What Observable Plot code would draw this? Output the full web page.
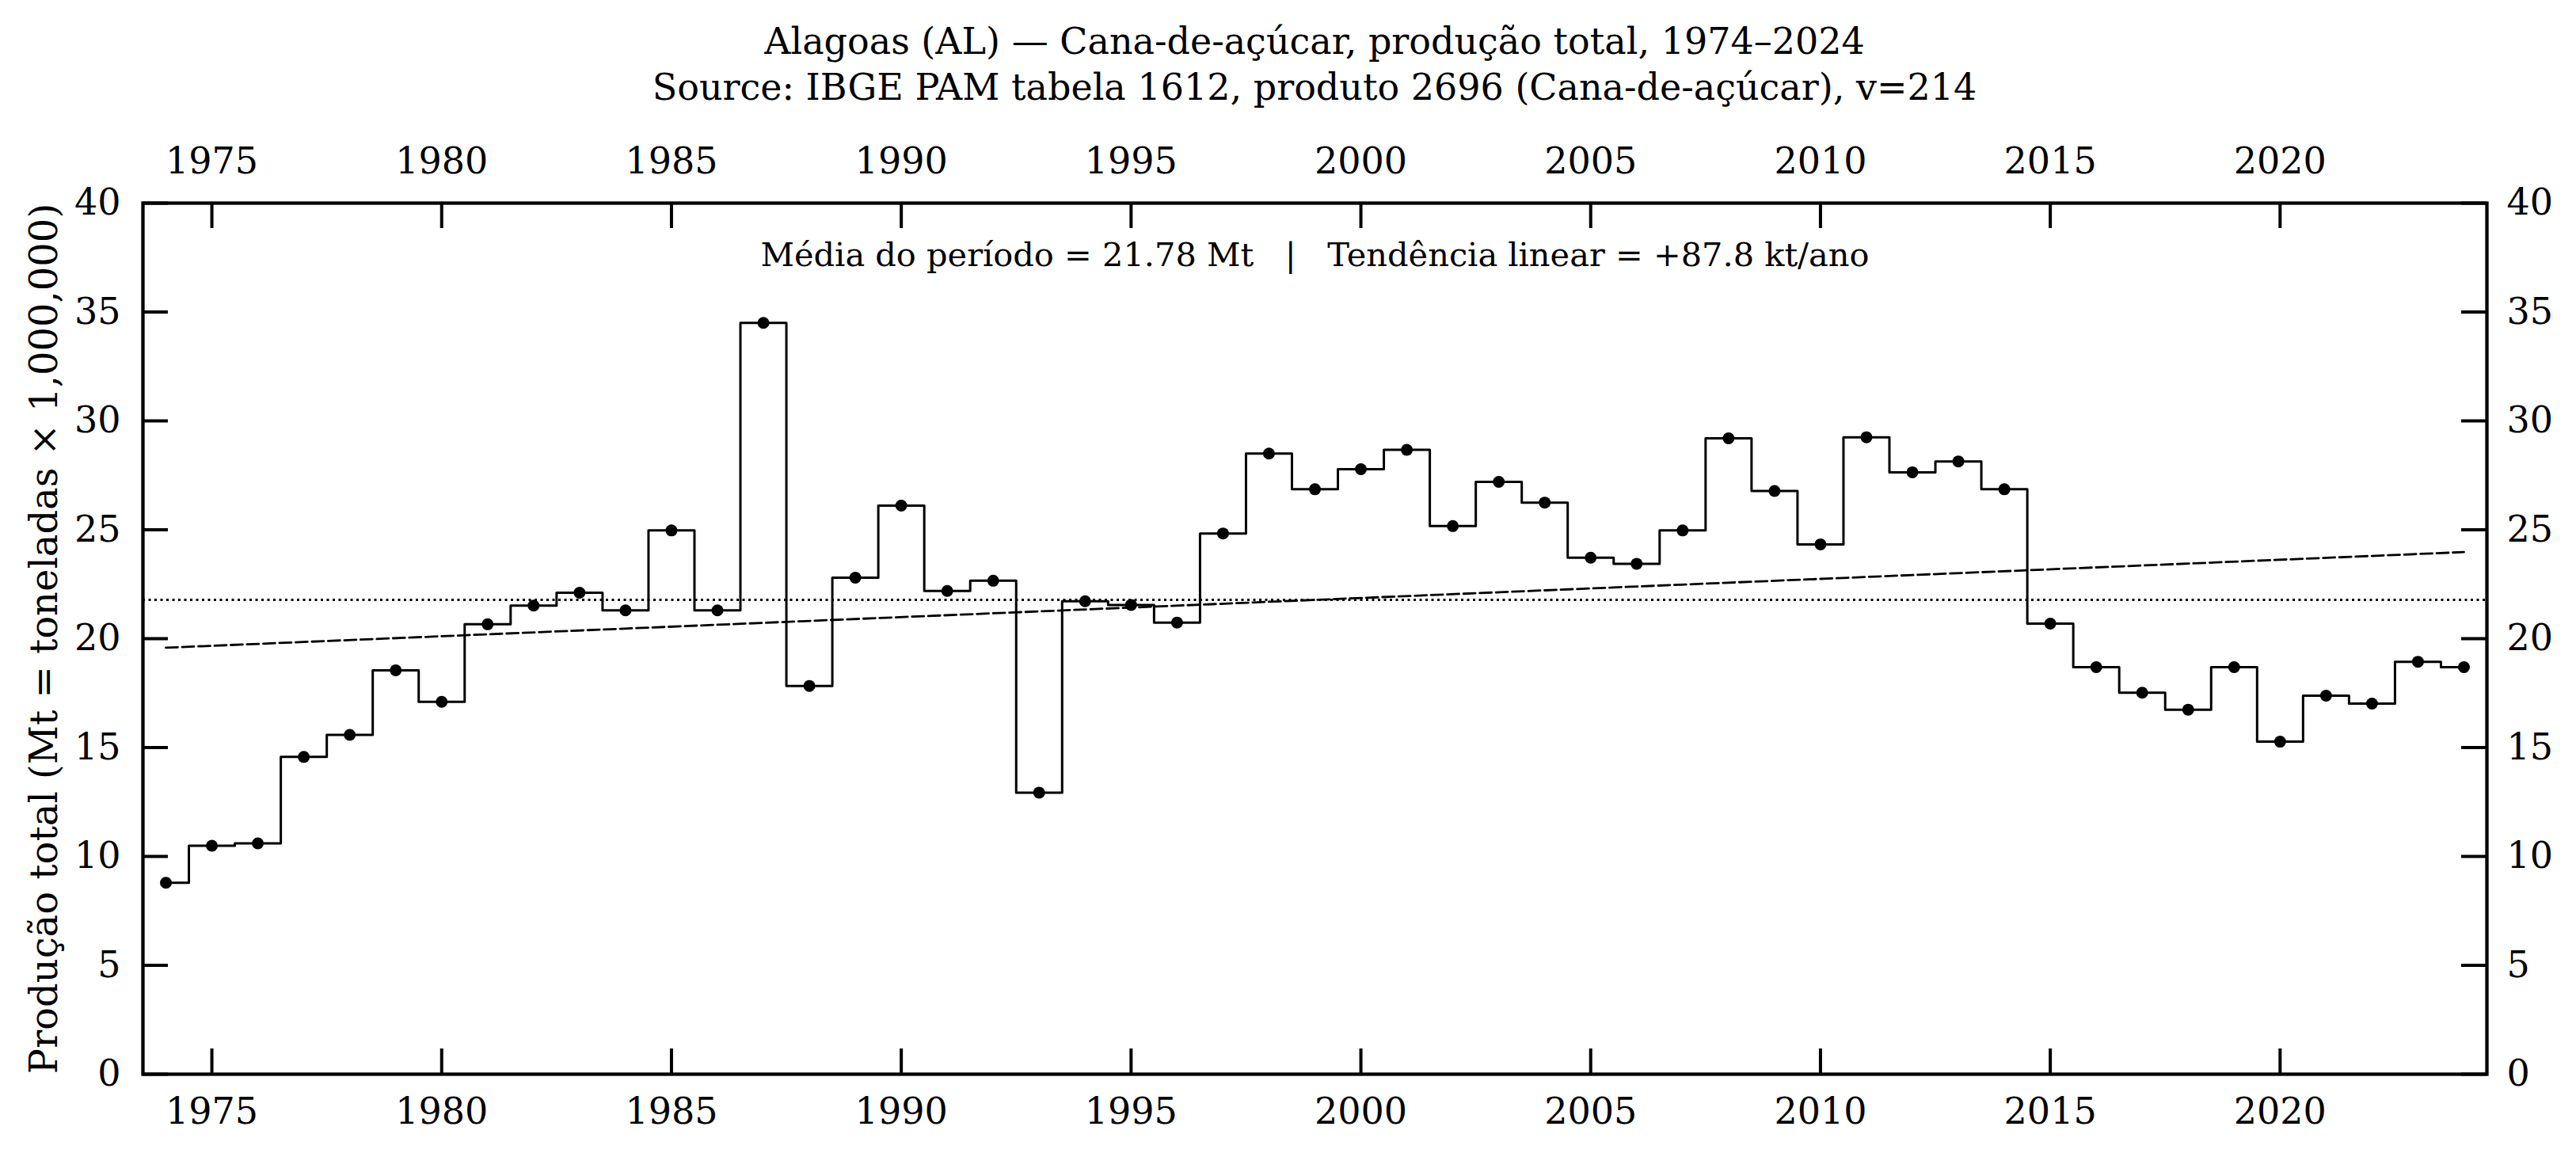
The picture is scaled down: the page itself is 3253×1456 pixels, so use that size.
<!DOCTYPE html>
<html>
<head>
<meta charset="utf-8">
<script src="https://cdn.jsdelivr.net/npm/d3@7"></script>
<script src="https://cdn.jsdelivr.net/npm/@observablehq/plot@0.6"></script>
<style>
  html, body { margin: 0; padding: 0; background: #fff; }
  #wrap { position: relative; width: 3253px; height: 1456px; }
  .ttl { position: absolute; left: 180px; width: 2960px; text-align: center; font-family: "DejaVu Serif", serif; font-size: 46px; line-height: 58px; color: #000; white-space: nowrap; }
</style>
</head>
<body>
<div id="wrap">
  <div class="ttl" id="t1" style="top:23px"></div>
  <div class="ttl" id="t2" style="top:81px"></div>
</div>
<script>
// ---- data ----
const years = [1974,1975,1976,1977,1978,1979,1980,1981,1982,1983,
               1984,1985,1986,1987,1988,1989,1990,1991,1992,1993,
               1994,1995,1996,1997,1998,1999,2000,2001,2002,2003,
               2004,2005,2006,2007,2008,2009,2010,2011,2012,2013,
               2014,2015,2016,2017,2018,2019,2020,2021,2022,2023,2024];
const production = [8.79,10.49,10.60,14.57,15.58,18.55,17.10,20.66,21.52,22.11,
                    21.30,24.97,21.30,34.50,17.83,22.80,26.11,22.19,22.66,12.93,
                    21.72,21.55,20.74,24.83,28.50,26.86,27.78,28.67,25.17,27.20,
                    26.25,23.72,23.44,24.97,29.20,26.78,24.33,29.25,27.64,28.14,
                    26.86,20.69,18.69,17.52,16.74,18.69,15.27,17.38,17.02,18.94,18.69];
const meanValue = 21.78;        // Mt
const trendSlope = 0.0878;      // Mt per year (+87.8 kt/ano)
const xTicks = [1975,1980,1985,1990,1995,2000,2005,2010,2015,2020];
const yTicks = [0,5,10,15,20,25,30,35,40];
const titleText = "Alagoas (AL) — Cana-de-açúcar, produção total, 1974–2024";
const subtitleText = "Source: IBGE PAM tabela 1612, produto 2696 (Cana-de-açúcar), v=214";
const annotText = "Média do período = 21.78 Mt   |   Tendência linear = +87.8 kt/ano";
const yLabel = "Produção total (Mt = toneladas × 1,000,000)";

// ---- derived tables ----
const data = years.map((y, i) => ({year: y, value: production[i]}));
const xMid = (years[0] + years[years.length - 1]) / 2;
const trend = [years[0], years[years.length - 1]].map(y => ({year: y, value: meanValue + trendSlope * (y - xMid)}));

document.getElementById("t1").textContent = titleText;
document.getElementById("t2").textContent = subtitleText;

const W = 3253, H = 1456;
const mL = 180, mR = 113, mT = 256, mB = 100;
const plotW = W - mL - mR, plotH = H - mT - mB;
const tick = 32;

const chart = Plot.plot({
  width: W,
  height: H,
  marginLeft: mL,
  marginRight: mR,
  marginTop: mT,
  marginBottom: mB,
  style: {fontFamily: "DejaVu Serif", fontSize: "46px", color: "#000", background: "transparent"},
  x: {domain: [1973.5, 2024.5]},
  y: {domain: [0, 40]},
  marks: [
    Plot.ruleY([meanValue], {stroke: "#000", strokeWidth: 3, strokeDasharray: "3,4.5"}),
    Plot.line(trend, {x: "year", y: "value", stroke: "#000", strokeWidth: 2.8, strokeDasharray: "15,5.5"}),
    Plot.line(data, {x: "year", y: "value", curve: "step", stroke: "#000", strokeWidth: 3}),
    Plot.dot(data, {x: "year", y: "value", r: 7.5, fill: "#000", stroke: null}),
    // inward ticks
    Plot.ruleX(xTicks, {x: d => d, insetTop: plotH - tick, stroke: "#000", strokeWidth: 4}),
    Plot.ruleX(xTicks, {x: d => d, insetBottom: plotH - tick, stroke: "#000", strokeWidth: 4}),
    Plot.ruleY(yTicks, {y: d => d, insetRight: plotW - tick, stroke: "#000", strokeWidth: 4}),
    Plot.ruleY(yTicks, {y: d => d, insetLeft: plotW - tick, stroke: "#000", strokeWidth: 4}),
    Plot.frame({stroke: "#000", strokeWidth: 4.3}),
    Plot.axisX(xTicks, {anchor: "bottom", tickSize: 0, tickPadding: 30, tickFormat: d => String(d), label: null}),
    Plot.axisX(xTicks, {anchor: "top", tickSize: 0, tickPadding: 38, tickFormat: d => String(d), label: null}),
    Plot.axisY(yTicks, {anchor: "left", tickSize: 0, tickPadding: 28, label: null}),
    Plot.axisY(yTicks, {anchor: "right", tickSize: 0, tickPadding: 25, label: null}),
    Plot.text([annotText], {frameAnchor: "top", dy: 50, text: d => d, fontSize: 41.5, fill: "#000"}),
    Plot.text([yLabel], {frameAnchor: "left", textAnchor: "middle", dx: -124, rotate: -90, text: d => d, fontSize: 48, fill: "#000"})
  ]
});
chart.style.position = "absolute";
chart.style.left = "0";
chart.style.top = "0";
document.getElementById("wrap").appendChild(chart);
</script>
</body>
</html>
